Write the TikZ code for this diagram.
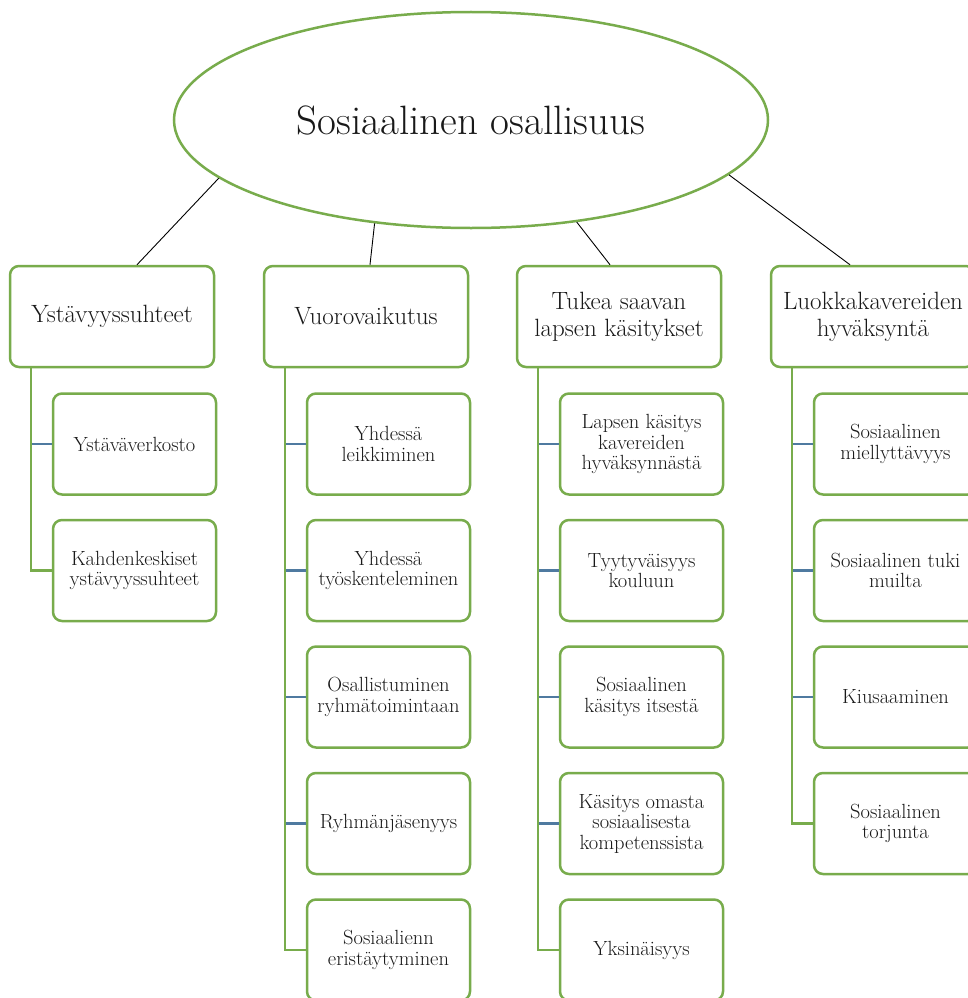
\documentclass[tikz,border=0pt]{standalone}
\usetikzlibrary{shapes.geometric}
\definecolor{grn}{RGB}{120,172,76}
\definecolor{stubblue}{RGB}{79,122,160}
\definecolor{txt}{RGB}{25,25,25}
\tikzset{
  mainbox/.style={draw=grn, line width=2.5pt, rounded corners=9pt, fill=white,
    minimum width=204pt, minimum height=101pt, inner sep=0pt, align=center,
    text=txt, font=\fontsize{25}{27}\selectfont},
  subbox/.style={draw=grn, line width=2.5pt, rounded corners=9pt, fill=white,
    minimum width=163pt, minimum height=101pt, inner sep=0pt, align=center,
    text=txt, font=\fontsize{20.5}{20.5}\selectfont},
  rootnode/.style={draw=grn, line width=2.5pt, ellipse, fill=white,
    minimum width=594pt, minimum height=216pt, inner sep=0pt,
    text=txt, font=\fontsize{41}{44}\selectfont},
  tie/.style={black, line width=0.9pt},
  trunk/.style={grn, line width=2.5pt},
  stub/.style={stubblue, line width=2.2pt}
}
\begin{document}
\begin{tikzpicture}[x=1pt,y=-1pt]
\useasboundingbox (0,0) rectangle (968,998);
\fill[white] (0,0) rectangle (968,998);

% root
\node[rootnode] (root) at (471,120) {Sosiaalinen osallisuus};

% level 1
\node[mainbox] (m1) at (112,316.5) {Ystävyyssuhteet};
\node[mainbox] (m2) at (366,316.5) {Vuorovaikutus};
\node[mainbox] (m3) at (619,316.5) {Tukea saavan\\lapsen käsitykset};
\node[mainbox] (m4) at (873,316.5) {Luokkakavereiden\\hyväksyntä};

% ties from root
\draw[tie] (root.193.9) -- ([xshift=25pt]m1.north);
\draw[tie] (root.227) -- ([xshift=4pt]m2.north);
\draw[tie] (root.316.4) -- ([xshift=-9pt]m3.north);
\draw[tie] (root.348.6) -- ([xshift=-23pt]m4.north);

% trunk coordinates
\coordinate (t1) at ([xshift=22pt]m1.south west);
\coordinate (t2) at ([xshift=22pt]m2.south west);
\coordinate (t3) at ([xshift=22pt]m3.south west);
\coordinate (t4) at ([xshift=22pt]m4.south west);

% column 1
\node[subbox] (s11) at (134.5,444) {Ystäväverkosto};
\node[subbox] (s12) at (134.5,570.5) {Kahdenkeskiset\\ystävyyssuhteet};

% column 2
\node[subbox] (s21) at (388.5,444) {Yhdessä\\leikkiminen};
\node[subbox] (s22) at (388.5,570.5) {Yhdessä\\työskenteleminen};
\node[subbox] (s23) at (388.5,697) {Osallistuminen\\ryhmätoimintaan};
\node[subbox] (s24) at (388.5,823.5) {Ryhmänjäsenyys};
\node[subbox] (s25) at (388.5,950) {Sosiaalienn\\eristäytyminen};

% column 3
\node[subbox] (s31) at (641.5,444) {Lapsen käsitys\\kavereiden\\hyväksynnästä};
\node[subbox] (s32) at (641.5,570.5) {Tyytyväisyys\\kouluun};
\node[subbox] (s33) at (641.5,697) {Sosiaalinen\\käsitys itsestä};
\node[subbox] (s34) at (641.5,823.5) {Käsitys omasta\\sosiaalisesta\\kompetenssista};
\node[subbox] (s35) at (641.5,950) {Yksinäisyys};

% column 4
\node[subbox] (s41) at (895.5,444) {Sosiaalinen\\miellyttävyys};
\node[subbox] (s42) at (895.5,570.5) {Sosiaalinen tuki\\muilta};
\node[subbox] (s43) at (895.5,697) {Kiusaaminen};
\node[subbox] (s44) at (895.5,823.5) {Sosiaalinen\\torjunta};

% stubs
\draw[stub] (s11.west) -- (s11.west -| t1);
\foreach \s in {s21,s22,s23,s24} \draw[stub] (\s.west) -- (\s.west -| t2);
\foreach \s in {s31,s32,s33,s34} \draw[stub] (\s.west) -- (\s.west -| t3);
\foreach \s in {s41,s42,s43} \draw[stub] (\s.west) -- (\s.west -| t4);

% trunks
\draw[trunk] (t1) |- (s12.west);
\draw[trunk] (t2) |- (s25.west);
\draw[trunk] (t3) |- (s35.west);
\draw[trunk] (t4) |- (s44.west);
\end{tikzpicture}
\end{document}
